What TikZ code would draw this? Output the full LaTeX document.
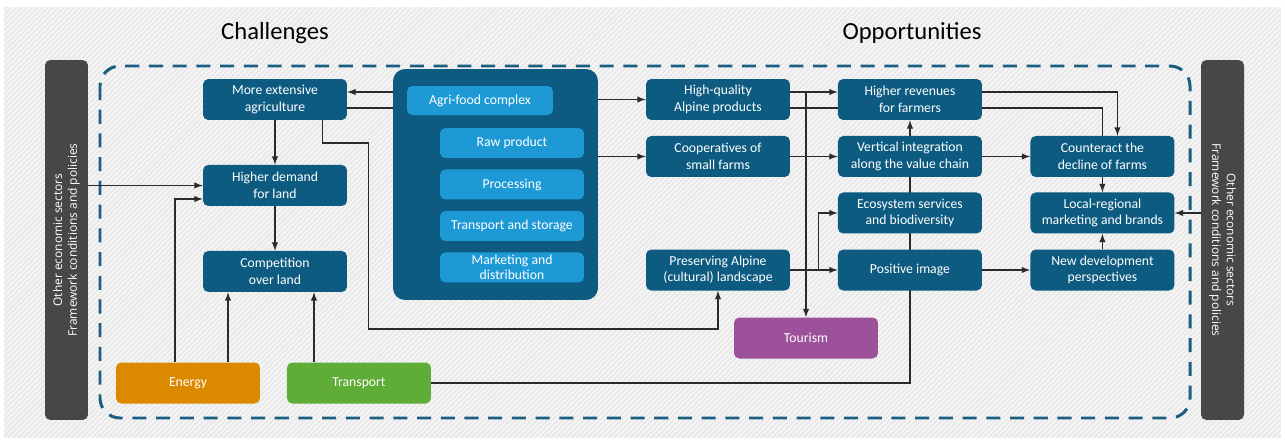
\documentclass[tikz,border=0pt]{standalone}
\usepackage{fontspec}
\setmainfont{Carlito}
\newfontfamily\sidefont{Open Sans}
\usepackage{tikz}
\usetikzlibrary{arrows,positioning,patterns,calc}

\definecolor{boxblue}{HTML}{0D5B80}
\definecolor{subblue}{HTML}{1D9AD6}
\definecolor{dashblue}{HTML}{1B5E82}
\definecolor{bargray}{HTML}{474747}
\definecolor{linegray}{HTML}{2B2B2B}
\definecolor{energy}{HTML}{DB8A00}
\definecolor{transp}{HTML}{5FAD36}
\definecolor{tourism}{HTML}{9D519B}
\definecolor{bggray}{HTML}{EAEAEA}

\pgfdeclarelayer{back}
\pgfdeclarelayer{lines}
\pgfsetlayers{back,lines,main}

\begin{document}
\begin{tikzpicture}[x=0.02cm, y=-0.02cm,
	box/.style={rectangle, fill=boxblue, text=white, rounded corners=3pt, minimum width=2.88cm, minimum height=0.82cm, align=center, inner sep=1pt, font=\fontsize{7.8}{9.4}\selectfont},
	sub/.style={box, fill=subblue, minimum height=0.6cm, font=\fontsize{7.8}{8.2}\selectfont},
	side/.style={rectangle, fill=bargray, text=white, rounded corners=3pt, minimum width=7.2cm, minimum height=0.86cm, align=center, font=\sidefont\fontsize{6.8}{8.4}\selectfont},
	post/.style={->, >=latex, line width=0.65pt, draw=linegray}]

	\useasboundingbox (0,0) rectangle (1285,443);

	% titles and side bars
	\node [font=\fontsize{14}{16}\selectfont] (CHt) at (275,33) {Challenges};
	\node [font=\fontsize{14}{16}\selectfont] (OPt) at (912,33) {Opportunities};
	\node [side, rotate=90] (L) at (66.5,240) {Other economic sectors\\Framework conditions and policies};
	\node [side, rotate=-90] (R) at (1222.5,240) {Other economic sectors\\Framework conditions and policies};

	% challenges
	\node [box] (MEA) at (275,99.5) {More extensive\\agriculture};
	\node [box] (HD) [below of=MEA, node distance=1.72cm] {Higher demand\\for land};
	\node [box] (CO) [below of=HD, node distance=1.72cm] {Competition\\over land};
	\node [box, fill=energy] (E) at (188,383) {Energy};
	\node [box, fill=transp] (T) [right of=E, node distance=3.42cm] {Transport};

	% agri-food complex
	\node [box, minimum width=4.1cm, minimum height=4.62cm, rounded corners=0.24cm] (AFC) at (495.5,184.5) {};
	\node [sub, minimum width=2.92cm, minimum height=0.58cm] (AFh) at (480,100.5) {Agri-food complex};
	\node [sub] (RP) at (512,143) {Raw product};
	\node [sub] (PR) [below of=RP, node distance=0.83cm] {Processing};
	\node [sub] (TS) [below of=PR, node distance=0.83cm] {Transport and storage};
	\node [sub] (MD) [below of=TS, node distance=0.83cm] {Marketing and\\distribution};

	% opportunities
	\node [box] (HQ) at (718,99.5) {High-quality\\Alpine products};
	\node [box] (CS) [below of=HQ, node distance=1.14cm] {Cooperatives of\\small farms};
	\node [box] (PA) at (718,270) {Preserving Alpine\\(cultural) landscape};
	\node [box, fill=tourism] (TO) at (806,338) {Tourism};

	\node [box] (HR) [right of=HQ, node distance=3.84cm] {Higher revenues\\for farmers};
	\node [box] (VI) [right of=CS, node distance=3.84cm] {Vertical integration\\along the value chain};
	\node [box] (ES) [below of=VI, node distance=1.13cm] {Ecosystem services\\and biodiversity};
	\node [box] (PI) [right of=PA, node distance=3.84cm] {Positive image};

	\node [box] (CD) [right of=VI, node distance=3.85cm] {Counteract the\\decline of farms};
	\node [box] (LR) [right of=ES, node distance=3.85cm] {Local-regional\\marketing and brands};
	\node [box] (ND) [right of=PI, node distance=3.85cm] {New development\\perspectives};

	\begin{pgfonlayer}{back}
		\fill [bggray] (4,7) rectangle (1281,438);
		\fill [pattern=north east lines, pattern color=white] (4,7) rectangle (1281,438);
		\draw [dashblue, line width=1.7pt, dash pattern=on 8pt off 5.5pt, rounded corners=0.4cm] (100,66) rectangle (1190,418);
	\end{pgfonlayer}

	\begin{pgfonlayer}{lines}
		% challenges
		\draw[post] ([yshift=0.15cm]MEA.east -| AFC.west) -- ([yshift=0.15cm]MEA.east);
		\draw[post] ([yshift=-0.17cm]MEA.east -| AFC.west) -- ++(-70,0) -- ++(0,35) -- ++(46,0) -- ++(0,186) -| (PA.south);
		\draw[post] (MEA) -- (HD);
		\draw[post] (HD) -- (CO);
		\draw[post] (HD -| L.south) -- (HD);
		\draw[post] ([xshift=-0.26cm]E.north) |- ([yshift=-0.27cm]HD.west);
		\draw[post] ([xshift=0.8cm]E.north) -- ([xshift=0.8cm]E.north |- CO.south);
		\draw[post] ([xshift=-0.9cm]T.north) -- ([xshift=-0.9cm]T.north |- CO.south);
		\draw[post] (T.east) -| (HR.south);

		% agri-food tree
		\draw[line width=0.6pt, black] ([xshift=0.26cm]AFh.south west) |- (MD.west);
		\draw[line width=0.6pt, black] (RP.west -| MD.west) ++(-20,0) -- (RP.west);
		\draw[line width=0.6pt, black] (PR.west -| MD.west) ++(-20,0) -- (PR.west);
		\draw[line width=0.6pt, black] (TS.west -| MD.west) ++(-20,0) -- (TS.west);

		% opportunities
		\draw[post] (HQ -| AFC.east) -- (HQ);
		\draw[post] (CS -| AFC.east) -- (CS);
		\draw[post] ([yshift=0.15cm]HQ.east) -- ([yshift=0.15cm]HR.west);
		\draw[post] ([yshift=0.15cm]HQ.east -| TO.north) -- (TO.north);
		\draw[post] ([yshift=-0.17cm]HQ.east) -| (LR.north);
		\draw[post] ([yshift=0.15cm]HR.east) -| ([xshift=0.3cm]CD.north);
		\draw[post] (CS) -- (VI);
		\draw[post] (VI) -- (CD);
		\draw[post] (PA) -- (PI);
		\draw[post] ([xshift=0.56cm]PA.east) |- (ES.west);
		\draw[post] (PI) -- (ND);
		\draw[post] (ND) -- (LR);
		\draw[post] (LR -| R.south) -- (LR);
	\end{pgfonlayer}

\end{tikzpicture}
\end{document}
